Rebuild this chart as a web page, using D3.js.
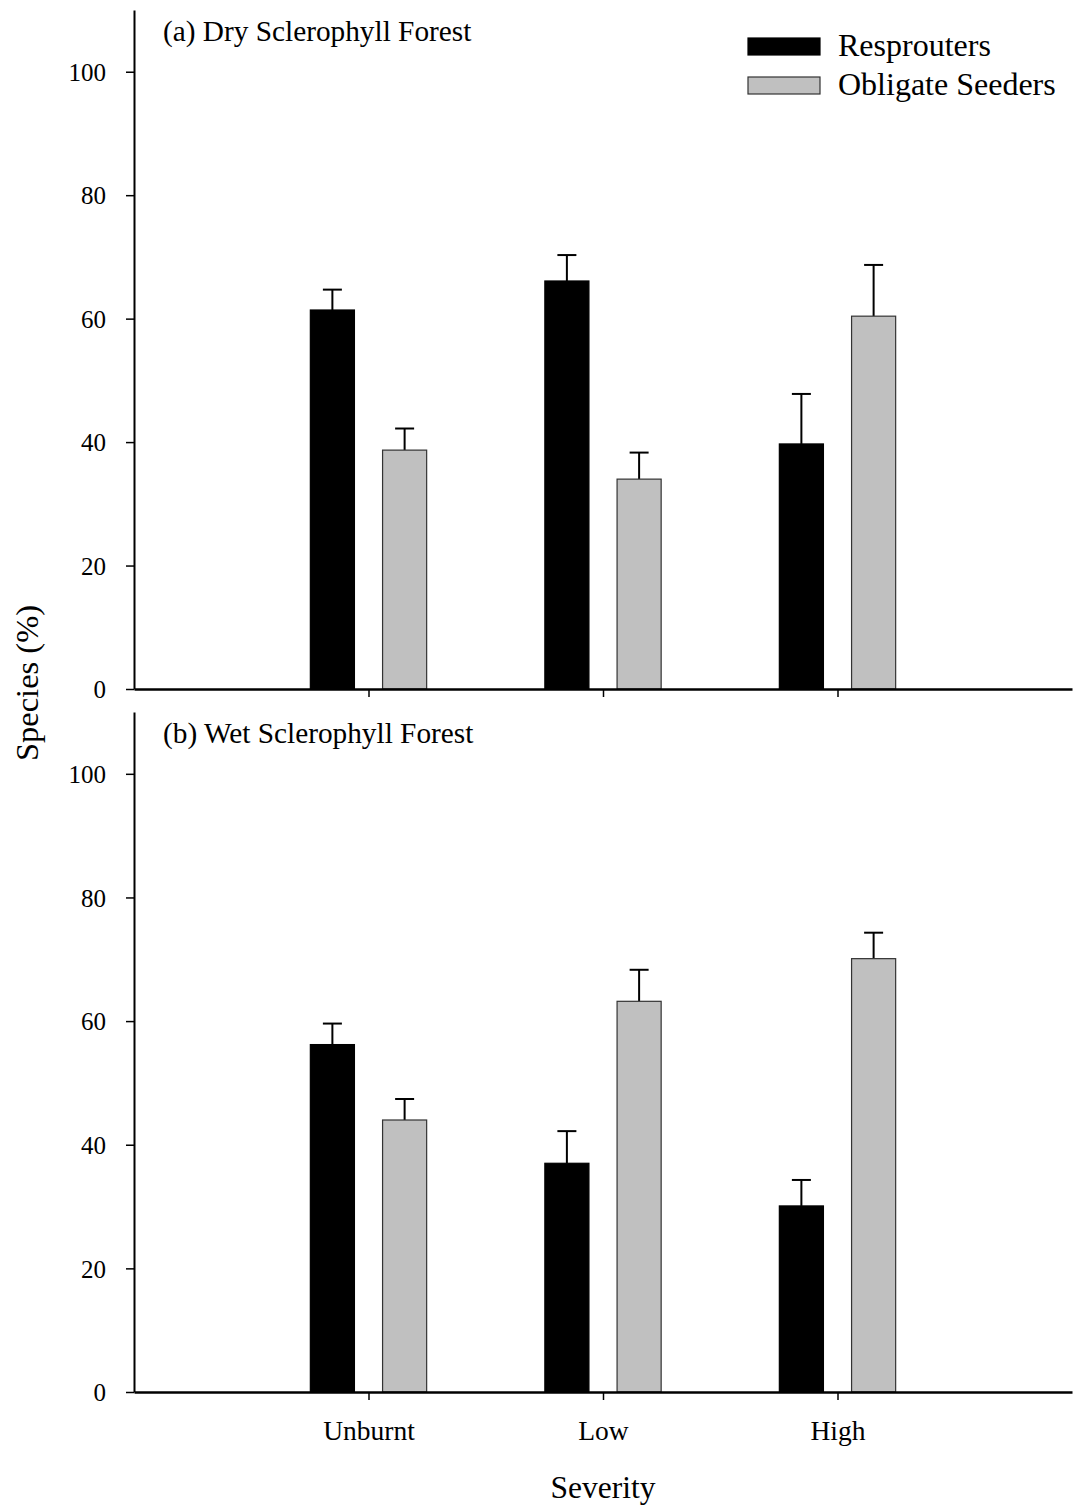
<!DOCTYPE html>
<html>
<head>
<meta charset="utf-8">
<script src="https://cdn.jsdelivr.net/npm/d3@7"></script>
<style>
  body { margin: 0; background: #fff; }
  svg text { font-family: "Liberation Serif", "Times New Roman", serif; fill: #000; }
</style>
</head>
<body>
<div id="chart"></div>
<script>
// categories and series
const severity = ["Unburnt", "Low", "High"];
const seriesNames = ["Resprouters", "Obligate Seeders"];

// panel (a) Dry Sclerophyll Forest
const dryResprouters = [61.4, 66.1, 39.7];
const dryResproutersErr = [3.3, 4.2, 8.1];
const drySeeders = [38.7, 34.0, 60.4];
const drySeedersErr = [3.5, 4.3, 8.3];

// panel (b) Wet Sclerophyll Forest
const wetResprouters = [56.2, 37.0, 30.1];
const wetResproutersErr = [3.4, 5.2, 4.2];
const wetSeeders = [44.0, 63.2, 70.1];
const wetSeedersErr = [3.4, 5.1, 4.2];

const yTicks = [0, 20, 40, 60, 80, 100];

const panels = [
  { label: "(a) Dry Sclerophyll Forest", top: 10, bottom: 689,
    series: [[dryResprouters, dryResproutersErr], [drySeeders, drySeedersErr]] },
  { label: "(b) Wet Sclerophyll Forest", top: 712, bottom: 1392,
    series: [[wetResprouters, wetResproutersErr], [wetSeeders, wetSeedersErr]] }
];

const W = 1074, H = 1506;
const left = 134, right = 1072;
const fills = ["#000000", "#c0c0c0"];
const strokes = ["#000000", "#333333"];

const svg = d3.select("#chart").append("svg")
  .attr("width", W)
  .attr("height", H);

// x: category index 1..3 on a 0..4 range
const x = d3.scaleLinear().domain([0, 4]).range([left, right]);
const barW = 0.188, barGap = 0.06;

panels.forEach((p, pi) => {
  const y = d3.scaleLinear().domain([0, 110]).range([p.bottom, p.top]);
  const g = svg.append("g");

  p.series.forEach(([vals, errs], si) => {
    const x0 = i => si === 0 ? x(i + 1 - barGap - barW) : x(i + 1 + barGap);
    const xc = i => x0(i) + (x(barW) - x(0)) / 2;

    // error bars (upper only)
    g.selectAll(null).data(vals).enter().append("line")
      .attr("x1", (d, i) => xc(i)).attr("x2", (d, i) => xc(i))
      .attr("y1", d => y(d)).attr("y2", (d, i) => y(d + errs[i]))
      .attr("stroke", "#000").attr("stroke-width", 2);
    g.selectAll(null).data(vals).enter().append("line")
      .attr("x1", (d, i) => xc(i) - 9.5).attr("x2", (d, i) => xc(i) + 9.5)
      .attr("y1", (d, i) => y(d + errs[i])).attr("y2", (d, i) => y(d + errs[i]))
      .attr("stroke", "#000").attr("stroke-width", 2);

    g.selectAll(null).data(vals).enter().append("rect")
      .attr("x", (d, i) => x0(i))
      .attr("y", d => y(d))
      .attr("width", x(barW) - x(0))
      .attr("height", d => y(0) - y(d))
      .attr("fill", fills[si])
      .attr("stroke", strokes[si])
      .attr("stroke-width", 1.2);
  });

  // y axis
  const ya = g.append("g")
    .attr("transform", `translate(${left},0)`)
    .call(d3.axisLeft(y).tickValues(yTicks).tickSize(8).tickSizeOuter(0).tickPadding(20));
  ya.select(".domain").attr("stroke-width", 2);
  ya.selectAll(".tick line").attr("stroke-width", 1.5);
  ya.selectAll(".tick text").attr("font-size", 25).attr("dy", "0.35em")
    .style("font-family", "'Liberation Serif', serif");

  // x axis
  const xa = g.append("g")
    .attr("transform", `translate(0,${p.bottom})`)
    .call(d3.axisBottom(x).tickValues([1, 2, 3]).tickSize(8).tickSizeOuter(0)
      .tickFormat(d => pi === 1 ? severity[d - 1] : ""));
  xa.select(".domain").attr("stroke-width", 2.5);
  xa.selectAll(".tick line").attr("stroke-width", 1.5);
  xa.selectAll(".tick text").attr("font-size", 27.5).attr("y", 28)
    .style("font-family", "'Liberation Serif', serif");

  g.append("text")
    .attr("x", 163).attr("y", p.top + 31)
    .attr("font-size", 29.3)
    .text(p.label);
});

// legend
const legend = svg.append("g");
seriesNames.forEach((name, i) => {
  legend.append("rect")
    .attr("x", 748).attr("y", 38 + i * 39)
    .attr("width", 72).attr("height", 17)
    .attr("fill", fills[i]).attr("stroke", strokes[i]).attr("stroke-width", 1.2);
  legend.append("text")
    .attr("x", 838).attr("y", 56 + i * 39)
    .attr("font-size", 32)
    .text(name);
});

// axis titles
svg.append("text")
  .attr("x", x(2)).attr("y", 1498)
  .attr("text-anchor", "middle")
  .attr("font-size", 31.5)
  .text("Severity");

svg.append("text")
  .attr("transform", "translate(38,683) rotate(-90)")
  .attr("text-anchor", "middle")
  .attr("font-size", 32.5)
  .text("Species (%)");
</script>
</body>
</html>
